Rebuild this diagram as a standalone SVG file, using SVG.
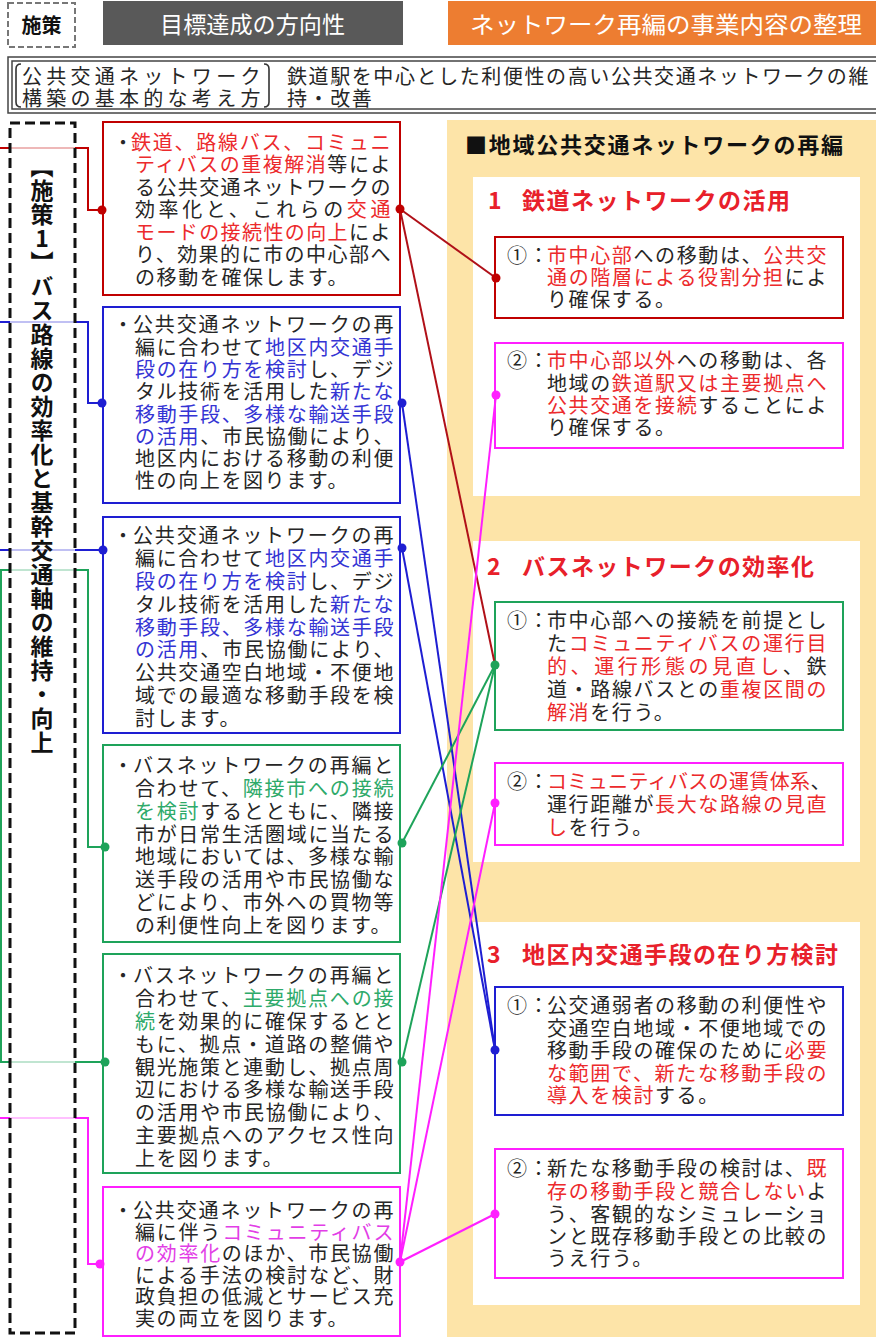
<svg xmlns="http://www.w3.org/2000/svg" width="876" height="1337" viewBox="0 0 876 1337">
<defs>
<style>
.b{font-family:"Noto Sans CJK JP","Noto Sans",sans-serif;font-size:20px;fill:#262626;letter-spacing:1.6px}
.r{fill:#ec2a2c}.bl{fill:#3434d4}.g{fill:#2eaa6a}.m{fill:#e23ee6}
.ttl{font-family:"Noto Sans CJK JP",sans-serif;font-size:23px;font-weight:bold;fill:#e8202a}
.hd{font-family:"Noto Sans CJK JP",sans-serif;font-size:23px;fill:#ffffff}
.dot{stroke:none}
.ln{fill:none;stroke-width:2}
</style>
</defs>
<rect width="876" height="1337" fill="#ffffff"/>

<!-- header -->
<g id="hdr-shisaku">
<rect x="8" y="3" width="67" height="44" fill="#fff" stroke="#777" stroke-width="2" stroke-dasharray="6 3"/>
<text x="41.5" y="33" text-anchor="middle" font-family="Noto Sans CJK JP,sans-serif" font-size="20" font-weight="bold" fill="#111">施策</text>
</g>
<g id="hdr-direction">
<rect x="103" y="1" width="300" height="44" fill="#595959"/>
<text class="hd" x="160" y="33" textLength="185" lengthAdjust="spacingAndGlyphs">目標達成の方向性</text>
</g>
<g id="hdr-content">
<rect x="448" y="1" width="428" height="44" fill="#ed7d31"/>
<text class="hd" x="470" y="33" textLength="392" lengthAdjust="spacingAndGlyphs">ネットワーク再編の事業内容の整理</text>
</g>
<g id="basic-concept">
<rect x="8" y="57" width="880" height="56" fill="#fff" stroke="#444" stroke-width="1.5"/>
<rect x="12" y="61" width="880" height="48" fill="none" stroke="#444" stroke-width="1.5"/>
<path d="M21 64 Q16 64 16 69 L16 102 Q16 107 21 107" fill="none" stroke="#333" stroke-width="1.6"/>
<path d="M264 64 Q269 64 269 69 L269 102 Q269 107 264 107" fill="none" stroke="#333" stroke-width="1.6"/>
<text class="b" x="22" y="84" textLength="240">公共交通ネットワーク</text>
<text class="b" x="22" y="106" textLength="240">構築の基本的な考え方</text>
<text class="b" x="287" y="84" textLength="583">鉄道駅を中心とした利便性の高い公共交通ネットワークの維</text>
<text class="b" x="287" y="106" letter-spacing="0">持・改善</text>
</g>

<!-- right panel background -->
<g id="right-panel">
<rect x="447" y="120" width="429" height="1217" fill="#fde4a8"/>
<rect x="473" y="177" width="387" height="319" fill="#ffffff"/>
<rect x="473" y="541" width="387" height="321" fill="#ffffff"/>
<rect x="473" y="922" width="387" height="383" fill="#ffffff"/>
<text x="465" y="153" font-family="Noto Sans CJK JP,sans-serif" font-size="22" font-weight="bold" fill="#111" textLength="378">■地域公共交通ネットワークの再編</text>
<text class="ttl" x="488" y="209">1</text>
<text class="ttl" x="522" y="209" textLength="268">鉄道ネットワークの活用</text>
<text class="ttl" x="487" y="575">2</text>
<text class="ttl" x="522" y="575" textLength="292">バスネットワークの効率化</text>
<text class="ttl" x="487" y="963">3</text>
<text class="ttl" x="522" y="963" textLength="316">地区内交通手段の在り方検討</text>
</g>

<!-- left side connectors (from outside) -->
<g id="connectors-left">
<polyline class="ln" stroke="#c00000" points="0,148 88,148 88,210 102,210"/>
<polyline class="ln" stroke="#1e1ed2" points="0,322 88,322 88,403 102,403"/>
<polyline class="ln" stroke="#1e1ed2" points="0,550 103,550"/>
<polyline class="ln" stroke="#1ea35a" points="1,1062 1,570 88,570 88,847 105,847"/>
<polyline class="ln" stroke="#1ea35a" points="0,1062 105,1062"/>
<polyline class="ln" stroke="#ff1fff" points="0,1118 88,1118 88,1264 100,1264"/>
</g>

<!-- policy 1 vertical label -->
<g id="policy1">
<rect x="10" y="123" width="65" height="1210" fill="#ffffff" fill-opacity="0.72" stroke="#111" stroke-width="3" stroke-dasharray="10 5"/>
<text x="42" y="155" font-family="Noto Sans CJK JP,sans-serif" font-size="23" font-weight="bold" fill="#111" letter-spacing="1" style="writing-mode:vertical-rl;text-orientation:upright">【施策1】バス路線の効率化と基幹交通軸の維持・向上</text>
</g>

<!-- left boxes -->
<g id="dir-1">
<rect x="103" y="122" width="297" height="173" fill="#fff" stroke="#c00000" stroke-width="2"/>
<text class="b" x="113" y="150" letter-spacing="0">・</text>
<text class="b" x="131" y="150" textLength="261"><tspan class="r">鉄道、路線バス、コミュニ</tspan></text>
<text class="b" x="135" y="172" textLength="257"><tspan class="r">ティバスの重複解消</tspan>等によ</text>
<text class="b" x="135" y="195" textLength="257">る公共交通ネットワークの</text>
<text class="b" x="135" y="217" textLength="257">効率化と、これらの<tspan class="r">交通</tspan></text>
<text class="b" x="135" y="240" textLength="257"><tspan class="r">モードの接続性の向上</tspan>によ</text>
<text class="b" x="135" y="262" textLength="257">り、効果的に市の中心部へ</text>
<text class="b" x="135" y="285">の移動を確保します。</text>
</g>
<g id="dir-2">
<rect x="103" y="307" width="297" height="196" fill="#fff" stroke="#1e1ed2" stroke-width="2"/>
<text class="b" x="113" y="332" letter-spacing="0">・</text>
<text class="b" x="133" y="332" textLength="262">公共交通ネットワークの再</text>
<text class="b" x="135" y="355" textLength="260">編に合わせて<tspan class="bl">地区内交通手</tspan></text>
<text class="b" x="135" y="377" textLength="260"><tspan class="bl">段の在り方を検討</tspan>し、デジ</text>
<text class="b" x="135" y="399" textLength="260">タル技術を活用した<tspan class="bl">新たな</tspan></text>
<text class="b" x="135" y="422" textLength="260"><tspan class="bl">移動手段、多様な輸送手段</tspan></text>
<text class="b" x="135" y="444" textLength="260"><tspan class="bl">の活用</tspan>、市民協働により、</text>
<text class="b" x="135" y="466" textLength="260">地区内における移動の利便</text>
<text class="b" x="135" y="488">性の向上を図ります。</text>
</g>
<g id="dir-3">
<rect x="103" y="517" width="297" height="216" fill="#fff" stroke="#1e1ed2" stroke-width="2"/>
<text class="b" x="113" y="543" letter-spacing="0">・</text>
<text class="b" x="133" y="543" textLength="262">公共交通ネットワークの再</text>
<text class="b" x="135" y="566" textLength="260">編に合わせて<tspan class="bl">地区内交通手</tspan></text>
<text class="b" x="135" y="589" textLength="260"><tspan class="bl">段の在り方を検討</tspan>し、デジ</text>
<text class="b" x="135" y="612" textLength="260">タル技術を活用した<tspan class="bl">新たな</tspan></text>
<text class="b" x="135" y="635" textLength="260"><tspan class="bl">移動手段、多様な輸送手段</tspan></text>
<text class="b" x="135" y="657" textLength="260"><tspan class="bl">の活用</tspan>、市民協働により、</text>
<text class="b" x="135" y="680" textLength="260">公共交通空白地域・不便地</text>
<text class="b" x="135" y="703" textLength="260">域での最適な移動手段を検</text>
<text class="b" x="135" y="726">討します。</text>
</g>
<g id="dir-4">
<rect x="103" y="745" width="297" height="197" fill="#fff" stroke="#1ea35a" stroke-width="2"/>
<text class="b" x="113" y="773" letter-spacing="0">・</text>
<text class="b" x="133" y="773" textLength="262">バスネットワークの再編と</text>
<text class="b" x="135" y="796" textLength="260">合わせて、<tspan class="g">隣接市への接続</tspan></text>
<text class="b" x="135" y="819" textLength="260"><tspan class="g">を検討</tspan>するとともに、隣接</text>
<text class="b" x="135" y="842" textLength="260">市が日常生活圏域に当たる</text>
<text class="b" x="135" y="864" textLength="260">地域においては、多様な輸</text>
<text class="b" x="135" y="887" textLength="260">送手段の活用や市民協働な</text>
<text class="b" x="135" y="910" textLength="260">どにより、市外への買物等</text>
<text class="b" x="135" y="933">の利便性向上を図ります。</text>
</g>
<g id="dir-5">
<rect x="103" y="954" width="297" height="219" fill="#fff" stroke="#1ea35a" stroke-width="2"/>
<text class="b" x="113" y="983" letter-spacing="0">・</text>
<text class="b" x="133" y="983" textLength="262">バスネットワークの再編と</text>
<text class="b" x="135" y="1006" textLength="260">合わせて、<tspan class="g">主要拠点への接</tspan></text>
<text class="b" x="135" y="1029" textLength="260"><tspan class="g">続</tspan>を効果的に確保するとと</text>
<text class="b" x="135" y="1052" textLength="260">もに、拠点・道路の整備や</text>
<text class="b" x="135" y="1075" textLength="260">観光施策と連動し、拠点周</text>
<text class="b" x="135" y="1097" textLength="260">辺における多様な輸送手段</text>
<text class="b" x="135" y="1120" textLength="260">の活用や市民協働により、</text>
<text class="b" x="135" y="1143" textLength="260">主要拠点へのアクセス性向</text>
<text class="b" x="135" y="1166">上を図ります。</text>
</g>
<g id="dir-6">
<rect x="103" y="1187" width="297" height="149" fill="#fff" stroke="#ff1fff" stroke-width="2"/>
<text class="b" x="113" y="1218" letter-spacing="0">・</text>
<text class="b" x="133" y="1218" textLength="262">公共交通ネットワークの再</text>
<text class="b" x="135" y="1240" textLength="260">編に伴う<tspan class="m">コミュニティバス</tspan></text>
<text class="b" x="135" y="1261" textLength="260"><tspan class="m">の効率化</tspan>のほか、市民協働</text>
<text class="b" x="135" y="1283" textLength="260">による手法の検討など、財</text>
<text class="b" x="135" y="1304" textLength="260">政負担の低減とサービス充</text>
<text class="b" x="135" y="1326">実の両立を図ります。</text>
</g>

<!-- right boxes -->
<g id="rail-1">
<rect x="495" y="237" width="348" height="81" fill="#fff" stroke="#c00000" stroke-width="2"/>
<text class="b" x="507" y="263" letter-spacing="0">①：</text>
<text class="b" x="547" y="263" textLength="281"><tspan class="r">市中心部</tspan>への移動は、<tspan class="r">公共交</tspan></text>
<text class="b" x="547" y="285" textLength="281"><tspan class="r">通の階層による役割分担</tspan>によ</text>
<text class="b" x="547" y="307">り確保する。</text>
</g>
<g id="rail-2">
<rect x="495" y="343" width="348" height="105" fill="#fff" stroke="#ff1fff" stroke-width="2"/>
<text class="b" x="507" y="368" letter-spacing="0">②：</text>
<text class="b" x="547" y="368" textLength="281"><tspan class="r">市中心部以外</tspan>への移動は、各</text>
<text class="b" x="547" y="391" textLength="281">地域の<tspan class="r">鉄道駅又は主要拠点へ</tspan></text>
<text class="b" x="547" y="413" textLength="281"><tspan class="r">公共交通を接続</tspan>することによ</text>
<text class="b" x="547" y="435">り確保する。</text>
</g>
<g id="bus-1">
<rect x="495" y="602" width="348" height="128" fill="#fff" stroke="#1ea35a" stroke-width="2"/>
<text class="b" x="507" y="628" letter-spacing="0">①：</text>
<text class="b" x="547" y="628" textLength="281">市中心部への接続を前提とし</text>
<text class="b" x="547" y="651" textLength="281">た<tspan class="r">コミュニティバスの運行目</tspan></text>
<text class="b" x="547" y="674" textLength="281"><tspan class="r">的、運行形態の見直し</tspan>、鉄</text>
<text class="b" x="547" y="697" textLength="281">道・路線バスとの<tspan class="r">重複区間の</tspan></text>
<text class="b" x="547" y="720"><tspan class="r">解消</tspan>を行う。</text>
</g>
<g id="bus-2">
<rect x="495" y="763" width="348" height="82" fill="#fff" stroke="#ff1fff" stroke-width="2"/>
<text class="b" x="507" y="789" letter-spacing="0">②：</text>
<text class="b" x="547" y="789" textLength="285"><tspan class="r">コミュニティバスの運賃体系</tspan>、</text>
<text class="b" x="547" y="812" textLength="281">運行距離が<tspan class="r">長大な路線の見直</tspan></text>
<text class="b" x="547" y="835"><tspan class="r">し</tspan>を行う。</text>
</g>
<g id="local-1">
<rect x="495" y="987" width="348" height="128" fill="#fff" stroke="#1e1ed2" stroke-width="2"/>
<text class="b" x="507" y="1013" letter-spacing="0">①：</text>
<text class="b" x="547" y="1013" textLength="281">公交通弱者の移動の利便性や</text>
<text class="b" x="547" y="1036" textLength="281">交通空白地域・不便地域での</text>
<text class="b" x="547" y="1058" textLength="281">移動手段の確保のために<tspan class="r">必要</tspan></text>
<text class="b" x="547" y="1081" textLength="281"><tspan class="r">な範囲で、新たな移動手段の</tspan></text>
<text class="b" x="547" y="1103"><tspan class="r">導入を検討</tspan>する。</text>
</g>
<g id="local-2">
<rect x="495" y="1149" width="348" height="129" fill="#fff" stroke="#ff1fff" stroke-width="2"/>
<text class="b" x="507" y="1176" letter-spacing="0">②：</text>
<text class="b" x="547" y="1176" textLength="281">新たな移動手段の検討は、<tspan class="r">既</tspan></text>
<text class="b" x="547" y="1199" textLength="281"><tspan class="r">存の移動手段と競合しない</tspan>よ</text>
<text class="b" x="547" y="1222" textLength="281">う、客観的なシミュレーショ</text>
<text class="b" x="547" y="1244" textLength="281">ンと既存移動手段との比較の</text>
<text class="b" x="547" y="1266">うえ行う。</text>
</g>

<!-- cross connectors -->
<g id="connectors">
<line class="ln" stroke="#b01018" x1="400" y1="209" x2="496" y2="278"/>
<line class="ln" stroke="#b01018" x1="400" y1="209" x2="495" y2="665"/>
<line class="ln" stroke="#1e1ed2" x1="402" y1="403" x2="495" y2="1050"/>
<line class="ln" stroke="#1e1ed2" x1="402" y1="548" x2="495" y2="1050"/>
<line class="ln" stroke="#1ea35a" x1="402" y1="843" x2="495" y2="665"/>
<line class="ln" stroke="#1ea35a" x1="402" y1="1062" x2="495" y2="665"/>
<line class="ln" stroke="#ff1fff" x1="400" y1="1262" x2="496" y2="395"/>
<line class="ln" stroke="#ff1fff" x1="400" y1="1262" x2="495" y2="803"/>
<line class="ln" stroke="#ff1fff" x1="400" y1="1262" x2="495" y2="1214"/>
<g class="dot" fill="#c00000">
<circle cx="102" cy="210" r="4.5"/><circle cx="400" cy="209" r="4.5"/><circle cx="496" cy="278" r="4.5"/>
</g>
<g class="dot" fill="#1e1ed2">
<circle cx="102" cy="403" r="4.5"/><circle cx="402" cy="403" r="4.5"/>
<circle cx="103" cy="550" r="4.5"/><circle cx="402" cy="548" r="4.5"/>
<circle cx="495" cy="1050" r="4.5"/>
</g>
<g class="dot" fill="#1ea35a">
<circle cx="105" cy="847" r="4.5"/><circle cx="402" cy="843" r="4.5"/>
<circle cx="105" cy="1062" r="4.5"/><circle cx="402" cy="1062" r="4.5"/>
<circle cx="495" cy="665" r="4.5"/>
</g>
<g class="dot" fill="#ff1fff">
<circle cx="100" cy="1264" r="4.5"/><circle cx="400" cy="1262" r="4.5"/>
<circle cx="496" cy="395" r="4.5"/><circle cx="495" cy="803" r="4.5"/><circle cx="495" cy="1214" r="4.5"/>
</g>
</g>
</svg>
